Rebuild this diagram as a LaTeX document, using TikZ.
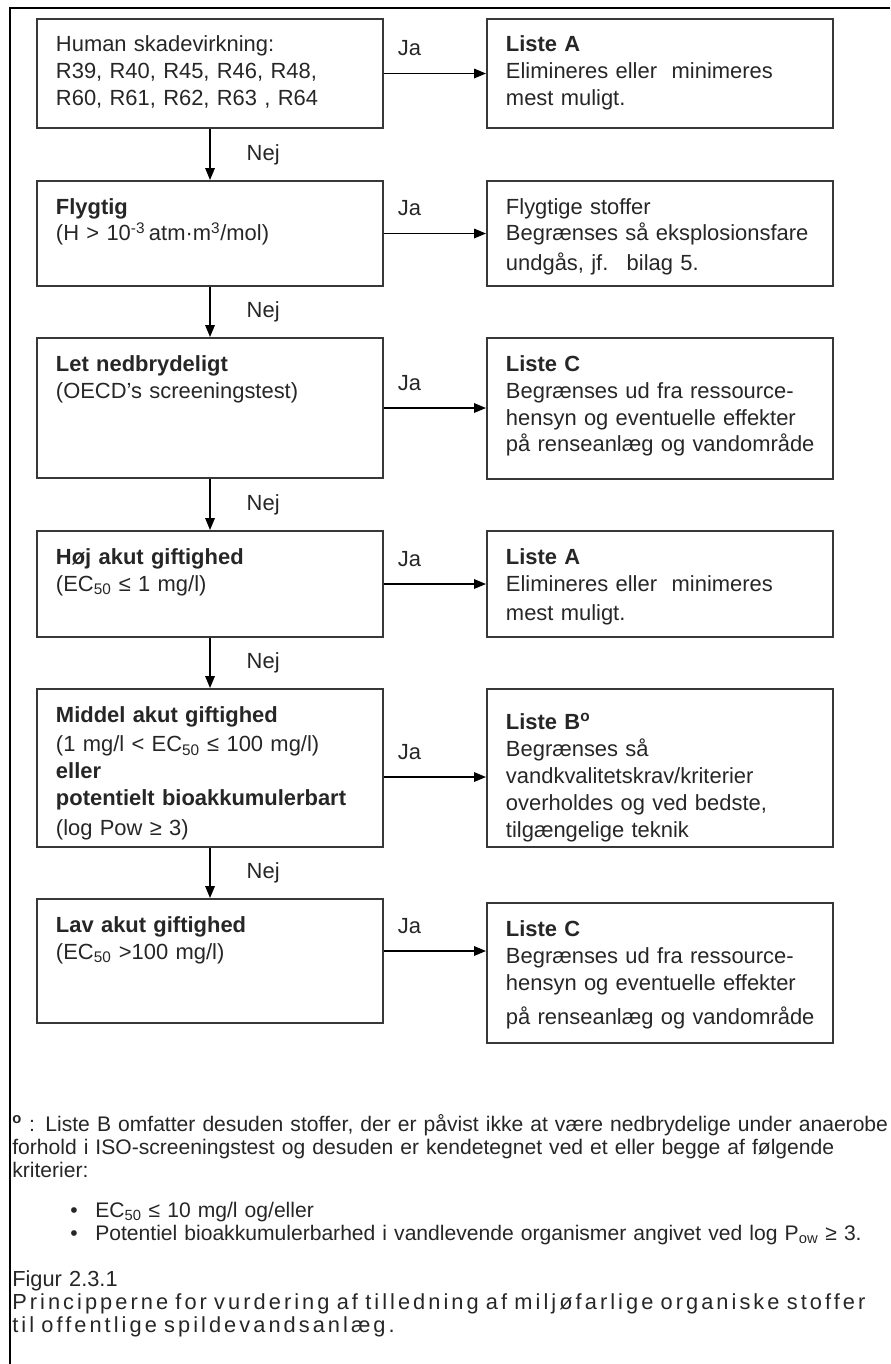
\documentclass[tikz,border=0pt]{standalone}
\usepackage{fontspec}
\setmainfont{Liberation Sans}
\newfontfamily\capfont[LetterSpace=14]{Liberation Sans}
\usetikzlibrary{arrows.meta,positioning}
\definecolor{ink}{HTML}{262626}
\definecolor{rim}{HTML}{383838}
\newcommand\punkt{\makebox[0.625cm][l]{\textbullet}}

\tikzset{
	box/.style={draw=rim,line width=1.4pt,anchor=north west,text width=8.1cm,align=left,inner xsep=0.275cm,inner ysep=0pt,text height=0.825cm,text=ink,font=\fontsize{15.6}{19.2}\selectfont,execute at begin node=\setlength{\leftskip}{0.2cm}},
	lbl/.style={inner sep=0pt,text=ink,font=\fontsize{15.6}{19.2}\selectfont},
	note/.style={inner sep=0pt,text width=24cm,align=left,anchor=base west,text=ink,font=\fontsize{15}{16.7}\selectfont},
	arr/.style={-{Triangle[length=0.3cm,width=0.24cm]},line width=1pt},
}

\begin{document}
\begin{tikzpicture}[x=0.025cm,y=-0.025cm]
	\useasboundingbox (0,0) rectangle (890,1364);
	\draw[line width=1.6pt] (890,8) -- (10,8) -- (10,1364);
	\node[box,text depth=1.9cm] (q1) at (36,18) {Human skadevirkning:\\R39, R40, R45, R46, R48,\\R60, R61, R62, R63 , R64};
	\node[box,text depth=1.9cm] (l1) at (486,18) {\textbf{Liste A}\\Elimineres eller~ minimeres\\mest muligt.};
	\node[box,text depth=1.8cm] (q2) at (36,180) {\textbf{Flygtig}\\(H > 10\textsuperscript{-3}\,atm·m\textsuperscript{3}/mol)};
	\node[box,text depth=1.8cm] (l2) at (486,180) {Flygtige stoffer\\Begrænses så eksplosionsfare\\[2pt]undgås, jf.~ bilag 5.};
	\node[box,text depth=2.675cm] (q3) at (36,337) {\textbf{Let nedbrydeligt}\\(OECD's screeningstest)};
	\node[box,text depth=2.7cm] (l3) at (486,337) {\textbf{Liste C}\\Begrænses ud fra ressource-\\hensyn og eventuelle effekter\\på renseanlæg og vandområde};
	\node[box,text depth=1.825cm] (q4) at (36,530) {\textbf{Høj akut giftighed}\\(EC\textsubscript{50} ≤ 1 mg/l)};
	\node[box,text depth=1.825cm] (l4) at (486,530) {\textbf{Liste A}\\Elimineres eller~ minimeres\\[2pt]mest muligt.};
	\node[box,text depth=3.125cm] (q5) at (36,688) {\textbf{Middel akut giftighed}\\[2pt](1 mg/l < EC\textsubscript{50} ≤ 100 mg/l)\\\textbf{eller}\\\textbf{potentielt bioakkumulerbart}\\[2pt](log Pow ≥ 3)};
	\node[box,text height=1cm,text depth=2.95cm] (l5) at (486,688) {\textbf{Liste B\textsuperscript{o}}\\Begrænses så\\vandkvalitetskrav/kriterier\\overholdes og ved bedste,\\tilgængelige teknik};
	\node[box,text depth=2.275cm] (q6) at (36,898) {\textbf{Lav akut giftighed}\\(EC\textsubscript{50} >100 mg/l)};
	\node[box,text depth=2.675cm] (l6) at (486,902) {\textbf{Liste C}\\Begrænses ud fra ressource-\\hensyn og eventuelle effekter\\[5pt]på renseanlæg og vandområde};
	\foreach \a/\b in {q1/q2,q2/q3,q3/q4,q4/q5,q5/q6}
		\draw[arr] (\a) -- (\b) node[lbl,midway,right=0.9cm] {Nej};
	\foreach \a/\b/\d in {q1/l1/0,q2/l2/0,q3/l3/0,q4/l4/0,q5/l5/-0.225,q6/l6/0.25}
		\draw[arr] ([yshift=\d cm]\a.east) coordinate (ja) -- (ja -| \b.west) node[lbl,pos=0.25,above=0.42cm] {Ja};
	\node[note] (fn) at (12,1131) {\textsuperscript{\textbf{o}} : Liste B omfatter desuden stoffer, der er påvist ikke at være nedbrydelige under anaerobe\\forhold i ISO-screeningstest og desuden er kendetegnet ved et eller begge af følgende\\kriterier:};
	\node[note] (kr) at (70,1217) {\punkt EC\textsubscript{50} ≤ 10 mg/l og/eller\\\punkt Potentiel bioakkumulerbarhed i vandlevende organismer angivet ved log P\textsubscript{ow} ≥ 3.};
	\node[note,font=\fontsize{15.5}{16.7}\selectfont] (fig) at (12,1286) {Figur 2.3.1\\{\capfont Principperne for vurdering af tilledning af miljøfarlige organiske stoffer}\\{\capfont til offentlige spildevandsanlæg.}};
\end{tikzpicture}
\end{document}
